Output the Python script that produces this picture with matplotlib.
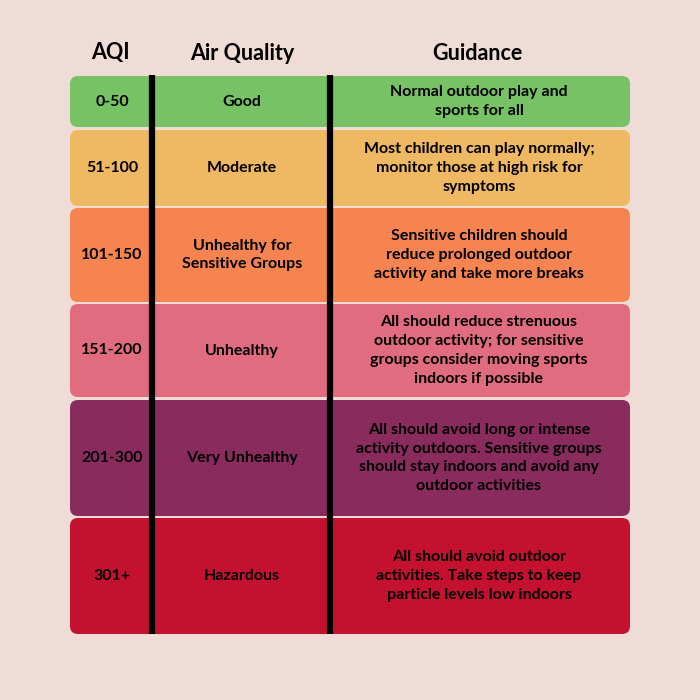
import matplotlib
matplotlib.use("Agg")
import matplotlib.pyplot as plt
from matplotlib.patches import FancyBboxPatch

aqi = ["0-50", "51-100", "101-150", "151-200", "201-300", "301+"]
quality = ["Good", "Moderate", "Unhealthy for\nSensitive Groups", "Unhealthy",
           "Very Unhealthy", "Hazardous"]
guidance = [
    "Normal outdoor play and\nsports for all",
    "Most children can play normally;\nmonitor those at high risk for\nsymptoms",
    "Sensitive children should\nreduce prolonged outdoor\nactivity and take more breaks",
    "All should reduce strenuous\noutdoor activity; for sensitive\ngroups consider moving sports\nindoors if possible",
    "All should avoid long or intense\nactivity outdoors. Sensitive groups\nshould stay indoors and avoid any\noutdoor activities",
    "All should avoid outdoor\nactivities. Take steps to keep\nparticle levels low indoors",
]
headers = ["AQI", "Air Quality", "Guidance"]

colors = ["#76C265", "#EFB862", "#F58451", "#E16C80", "#8A2B5E", "#C3112F"]
rows = [(76, 127), (130, 206), (208, 302), (304, 397), (400, 516), (518, 634)]

fig = plt.figure(figsize=(7, 7), dpi=100)
fig.patch.set_facecolor("#F0DCD6")
ax = fig.add_axes([0, 0, 1, 1])
ax.set_xlim(0, 700)
ax.set_ylim(700, 0)
ax.axis("off")

font = dict(family=["Lato", "DejaVu Sans"], fontweight="bold", color="black")
x0, x1 = 70, 630
for (t, b), c, a, q, g in zip(rows, colors, aqi, quality, guidance):
    ax.add_patch(FancyBboxPatch((x0, t), x1 - x0, b - t,
                                boxstyle="round,pad=0,rounding_size=8",
                                fc=c, ec="none"))
    ym = (t + b) / 2
    ax.text(112, ym, a, ha="center", va="center", fontsize=11.5, **font)
    ax.text(242, ym, q, ha="center", va="center", fontsize=11.5,
            linespacing=1.45, **font)
    ax.text(479, ym, g, ha="center", va="center", fontsize=11.5,
            linespacing=1.45, **font)

for xh, h in zip([110, 242, 477], headers):
    ax.text(xh, 53, h, ha="center", va="center", fontsize=15.5, **font)

for xv in [152, 330]:
    ax.plot([xv, xv], [75, 634], color="black", lw=4.5, solid_capstyle="butt")

fig.savefig("out.png", dpi=100, facecolor=fig.get_facecolor())
